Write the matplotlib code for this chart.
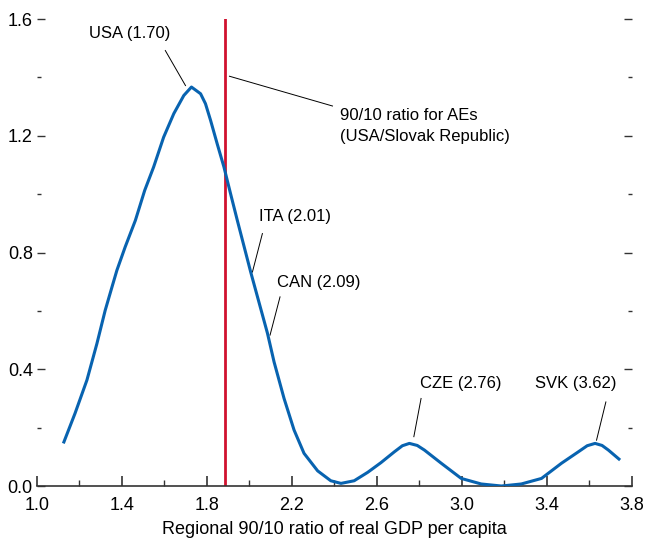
import matplotlib.pyplot as plt
from matplotlib.ticker import MultipleLocator

plt.rcParams['font.family'] = ['Liberation Sans', 'DejaVu Sans']

# density of regional 90/10 ratios
ratio = [1.124, 1.179, 1.235, 1.282, 1.321, 1.353, 1.376, 1.415, 1.463, 1.507,
         1.549, 1.596, 1.644, 1.691, 1.727, 1.770, 1.793, 1.817, 1.848, 1.880,
         1.911, 1.943, 2.006, 2.085, 2.116, 2.163, 2.210, 2.257, 2.321, 2.383,
         2.431, 2.493, 2.557, 2.619, 2.682, 2.720, 2.753, 2.790, 2.824, 2.903,
         2.997, 3.091, 3.186, 3.280, 3.375, 3.469, 3.548, 3.590, 3.627, 3.660,
         3.690, 3.745]
density = [0.146, 0.249, 0.363, 0.488, 0.602, 0.682, 0.739, 0.819, 0.910, 1.013,
           1.093, 1.195, 1.276, 1.338, 1.367, 1.344, 1.310, 1.253, 1.173, 1.093,
           1.002, 0.910, 0.733, 0.523, 0.425, 0.300, 0.192, 0.112, 0.052, 0.018,
           0.009, 0.018, 0.047, 0.080, 0.117, 0.138, 0.146, 0.139, 0.123, 0.078,
           0.026, 0.007, 0.0, 0.007, 0.026, 0.078, 0.117, 0.138, 0.146, 0.139,
           0.123, 0.089]

ae_ratio = 1.885

labels = ['USA (1.70)', 'ITA (2.01)', 'CAN (2.09)', 'CZE (2.76)', 'SVK (3.62)']
label_xy = [(1.434, 1.549), (2.043, 0.922), (2.128, 0.699), (2.803, 0.352), (3.342, 0.352)]
point_xy = [(1.699, 1.372), (2.014, 0.733), (2.097, 0.517), (2.774, 0.169), (3.634, 0.157)]
line_from = [(1.604, 1.492), (2.061, 0.865), (2.144, 0.648), (2.808, 0.300), (3.678, 0.288)]

xticks = [1.0, 1.4, 1.8, 2.2, 2.6, 3.0, 3.4, 3.8]

fig = plt.figure(figsize=(6.46, 5.39), dpi=100)
ax = fig.add_axes([0.0573, 0.0983, 0.9207, 0.8664])

ax.plot(ratio, density, color='#0863b0', lw=2.2, solid_capstyle='butt',
        solid_joinstyle='round', zorder=3)
ax.axvline(ae_ratio, color='#d0122f', lw=2.0, zorder=2)

fs = 12
for lab, txy, pxy, lf in zip(labels, label_xy, point_xy, line_from):
    ax.text(txy[0], txy[1], lab, fontsize=fs, ha='left' if txy[0] > 2 else 'center',
            va='center')
    ax.plot([lf[0], pxy[0]], [lf[1], pxy[1]], color='black', lw=0.7)

ax.plot([1.906, 2.391], [1.404, 1.302], color='black', lw=0.7)
ax.text(2.426, 1.234, '90/10 ratio for AEs\n(USA/Slovak Republic)', fontsize=fs,
        ha='left', va='center', linespacing=1.45)

ax.set_xlim(1.0, 3.8)
ax.set_ylim(0, 1.6)
ax.set_xticks(xticks)
ax.xaxis.set_minor_locator(MultipleLocator(0.2))
ax.yaxis.set_major_locator(MultipleLocator(0.4))
ax.yaxis.set_minor_locator(MultipleLocator(0.2))
ax.xaxis.set_major_formatter(lambda v, p: f'{v:.1f}')
ax.yaxis.set_major_formatter(lambda v, p: f'{v:.1f}')

for s in ['top', 'left', 'right']:
    ax.spines[s].set_visible(False)
ax.spines['bottom'].set_color('#333333')
ax.spines['bottom'].set_linewidth(1.2)

ax.tick_params(axis='x', which='major', direction='in', length=7, width=1.2,
               color='#333333', labelsize=fs + 1, pad=8)
ax.tick_params(axis='x', which='minor', direction='in', length=4, width=1.0,
               color='#333333')
ax.tick_params(axis='y', which='both', direction='in', left=True, right=True,
               labelsize=fs + 1, pad=3, color='#333333')
ax.tick_params(axis='y', which='major', length=6, width=1.0)
ax.tick_params(axis='y', which='minor', length=3, width=1.0)

ax.set_xlabel('Regional 90/10 ratio of real GDP per capita', fontsize=fs + 1, labelpad=5)

fig.savefig('out.png', dpi=100)
